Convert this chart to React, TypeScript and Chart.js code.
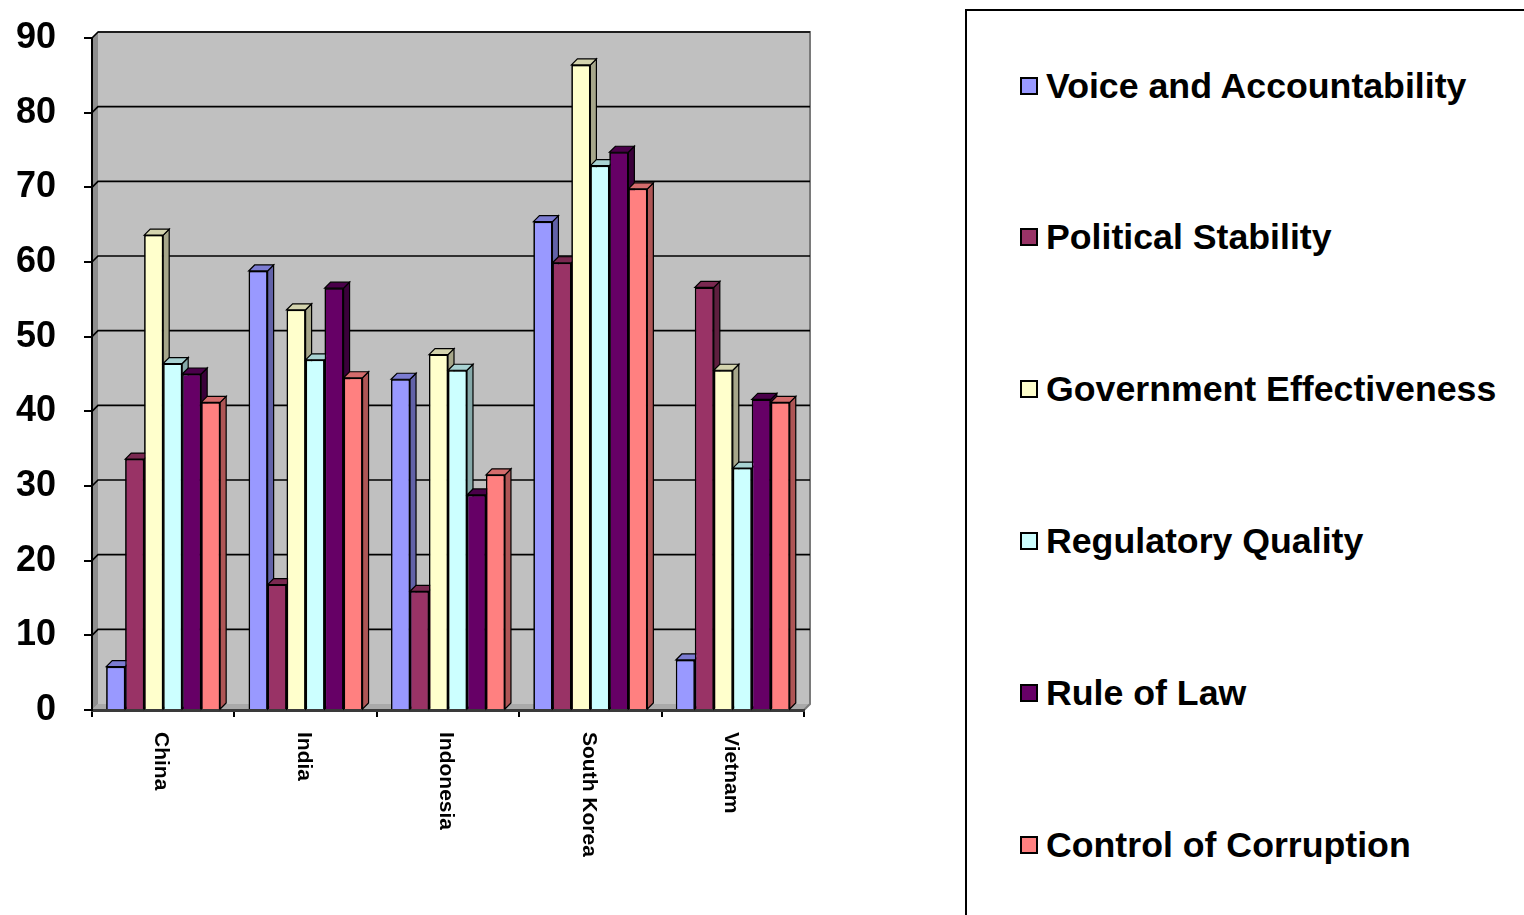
import React, { useEffect, useRef } from "react";
import { Chart, registerables } from "chart.js";

Chart.register(...registerables);

const categories = ["China", "India", "Indonesia", "South Korea", "Vietnam"];
const seriesNames = [
  "Voice and Accountability",
  "Political Stability",
  "Government Effectiveness",
  "Regulatory Quality",
  "Rule of Law",
  "Control of Corruption",
];
const voiceAccountability = [5.8, 58.8, 44.3, 65.4, 6.7];
const politicalStability = [33.6, 16.8, 15.9, 59.9, 56.6];
const governmentEffectiveness = [63.6, 53.6, 47.6, 86.4, 45.5];
const regulatoryQuality = [46.4, 46.9, 45.5, 72.9, 32.4];
const ruleOfLaw = [45.0, 56.5, 28.8, 74.7, 41.6];
const controlOfCorruption = [41.2, 44.5, 31.5, 69.8, 41.2];
const yTickValues = [0, 10, 20, 30, 40, 50, 60, 70, 80, 90];

const seriesColors = ["#9999FF", "#993366", "#FFFFCC", "#CCFFFF", "#660066", "#FF8080"];
const sideColors = ["#6262A8", "#5E1F3F", "#A6A68A", "#86A9A9", "#3A003A", "#AE5555"];
const topColors = ["#7C7CD2", "#7A2951", "#D4D4AE", "#A8D2D2", "#4A004A", "#D46C6C"];

const FONT = "'Liberation Sans', Arial, Helvetica, sans-serif";
const DX = 6;
const DY = -6;

const wallPlugin = {
  id: "wall3d",
  beforeDraw(chart: any) {
    const { ctx, chartArea } = chart;
    const { left, right, top, bottom } = chartArea;
    const y = chart.scales.y;
    ctx.save();
    ctx.fillStyle = "#C0C0C0";
    ctx.beginPath();
    ctx.moveTo(left, bottom);
    ctx.lineTo(left, top);
    ctx.lineTo(left + DX, top + DY);
    ctx.lineTo(right + DX, top + DY);
    ctx.lineTo(right + DX, bottom + DY);
    ctx.lineTo(right, bottom);
    ctx.closePath();
    ctx.fill();
    ctx.fillStyle = "#8E8E8E";
    ctx.beginPath();
    ctx.moveTo(left, bottom);
    ctx.lineTo(left, top);
    ctx.lineTo(left + DX, top + DY);
    ctx.lineTo(left + DX, bottom + DY);
    ctx.closePath();
    ctx.fill();
    ctx.fillStyle = "#A9A9A9";
    ctx.beginPath();
    ctx.moveTo(left, bottom);
    ctx.lineTo(left + DX, bottom + DY);
    ctx.lineTo(right + DX, bottom + DY);
    ctx.lineTo(right, bottom);
    ctx.closePath();
    ctx.fill();
    ctx.strokeStyle = "#7A7A7A";
    ctx.lineWidth = 2;
    ctx.beginPath();
    ctx.moveTo(left + DX, top + DY);
    ctx.lineTo(right + DX, top + DY);
    ctx.lineTo(right + DX, bottom + DY);
    ctx.lineTo(right, bottom);
    ctx.stroke();
    ctx.strokeStyle = "#000000";
    ctx.lineWidth = 1.6;
    yTickValues.forEach((v) => {
      if (v === 0) return;
      const py = y.getPixelForValue(v);
      ctx.beginPath();
      ctx.moveTo(left, py);
      ctx.lineTo(left + DX, py + DY);
      ctx.lineTo(right + DX, py + DY);
      ctx.stroke();
    });
    ctx.restore();
  },
  afterDraw(chart: any) {
    const { ctx } = chart;
    const x = chart.scales.x;
    ctx.save();
    ctx.fillStyle = "#000000";
    ctx.font = `bold 21px ${FONT}`;
    ctx.textAlign = "left";
    ctx.textBaseline = "middle";
    categories.forEach((c, i) => {
      const px = x.getPixelForValue(i) - 2;
      ctx.save();
      ctx.translate(px, 732);
      ctx.rotate(Math.PI / 2);
      ctx.fillText(c, 0, 0);
      ctx.restore();
    });
    ctx.restore();
  },
};

const barFacesPlugin = {
  id: "barFaces3d",
  afterDatasetsDraw(chart: any) {
    const { ctx, chartArea } = chart;
    ctx.save();
    for (let di = 0; di < chart.data.datasets.length; di++) {
      const meta = chart.getDatasetMeta(di);
      meta.data.forEach((el: any) => {
        const { x, y, base, width } = el.getProps(["x", "y", "base", "width"], true);
        const l = x - width / 2;
        const r = x + width / 2;
        ctx.lineWidth = 1.2;
        ctx.strokeStyle = "#000000";
        ctx.fillStyle = sideColors[di];
        ctx.beginPath();
        ctx.moveTo(r, y);
        ctx.lineTo(r + DX, y + DY);
        ctx.lineTo(r + DX, base + DY);
        ctx.lineTo(r, base);
        ctx.closePath();
        ctx.fill();
        ctx.stroke();
        ctx.fillStyle = topColors[di];
        ctx.beginPath();
        ctx.moveTo(l, y);
        ctx.lineTo(l + DX, y + DY);
        ctx.lineTo(r + DX, y + DY);
        ctx.lineTo(r, y);
        ctx.closePath();
        ctx.fill();
        ctx.stroke();
        el.draw(ctx, chartArea);
      });
    }
    ctx.restore();
  },
};

export default function App() {
  const canvasRef = useRef<HTMLCanvasElement | null>(null);

  useEffect(() => {
    if (!canvasRef.current) return;
    const seriesValues = [
      voiceAccountability,
      politicalStability,
      governmentEffectiveness,
      regulatoryQuality,
      ruleOfLaw,
      controlOfCorruption,
    ];
    const chart = new Chart(canvasRef.current, {
      type: "bar",
      data: {
        labels: categories,
        datasets: seriesNames.map((name, i) => ({
          label: name,
          data: seriesValues[i],
          backgroundColor: seriesColors[i],
          borderColor: "#000000",
          borderWidth: 1.5,
          categoryPercentage: 0.8,
          barPercentage: 1.0,
        })),
      },
      options: {
        responsive: false,
        animation: false,
        maintainAspectRatio: false,
        layout: { padding: { top: 38, right: 26, left: 0, bottom: 0 } },
        plugins: {
          legend: { display: false },
          tooltip: { enabled: false },
          title: { display: false },
        },
        scales: {
          x: {
            offset: true,
            grid: {
              display: true,
              drawOnChartArea: false,
              drawTicks: true,
              tickLength: 7,
              color: "#000000",
              lineWidth: 2,
            },
            border: { display: true, color: "#3A3A3A", width: 3 },
            ticks: { display: false },
            afterFit: (s: any) => {
              s.height = 205;
              s.paddingLeft = 0;
              s.paddingRight = 0;
            },
          },
          y: {
            min: 0,
            max: 90,
            ticks: {
              stepSize: 10,
              color: "#000000",
              padding: 28,
              font: { family: FONT, size: 36, weight: "bold", lineHeight: 1 },
            },
            grid: {
              display: true,
              drawOnChartArea: false,
              drawTicks: true,
              tickLength: 8,
              color: "#000000",
              lineWidth: 2,
            },
            border: { display: true, color: "#000000", width: 2 },
            afterFit: (s: any) => {
              s.width = 92;
              s.paddingTop = 0;
              s.paddingBottom = 0;
            },
          },
        },
      },
      plugins: [wallPlugin, barFacesPlugin],
    } as any);
    return () => chart.destroy();
  }, []);

  const legendCenters = [86, 237, 389, 541, 693, 845];

  return (
    <div style={{ position: "absolute", left: 0, top: 0, width: 1524, height: 915, background: "#FFFFFF", overflow: "hidden" }}>
      <canvas
        ref={canvasRef}
        width={830}
        height={915}
        style={{ position: "absolute", left: 0, top: 0, width: 830, height: 915 }}
      />
      <div
        style={{
          position: "absolute",
          left: 965,
          top: 9,
          width: 600,
          height: 950,
          borderLeft: "2px solid #000",
          borderTop: "2px solid #000",
          boxSizing: "border-box",
        }}
      />
      {seriesNames.map((name, i) => (
        <div
          key={name}
          style={{
            position: "absolute",
            left: 1020,
            top: legendCenters[i] - 20,
            height: 40,
            display: "flex",
            alignItems: "center",
            whiteSpace: "nowrap",
          }}
        >
          <div
            style={{
              width: 18,
              height: 18,
              boxSizing: "border-box",
              border: "2px solid #000",
              background: seriesColors[i],
              marginRight: 8,
            }}
          />
          <span
            style={{
              fontFamily: FONT,
              fontWeight: "bold",
              fontSize: 35.7,
              lineHeight: "40px",
              color: "#000",
            }}
          >
            {name}
          </span>
        </div>
      ))}
    </div>
  );
}
